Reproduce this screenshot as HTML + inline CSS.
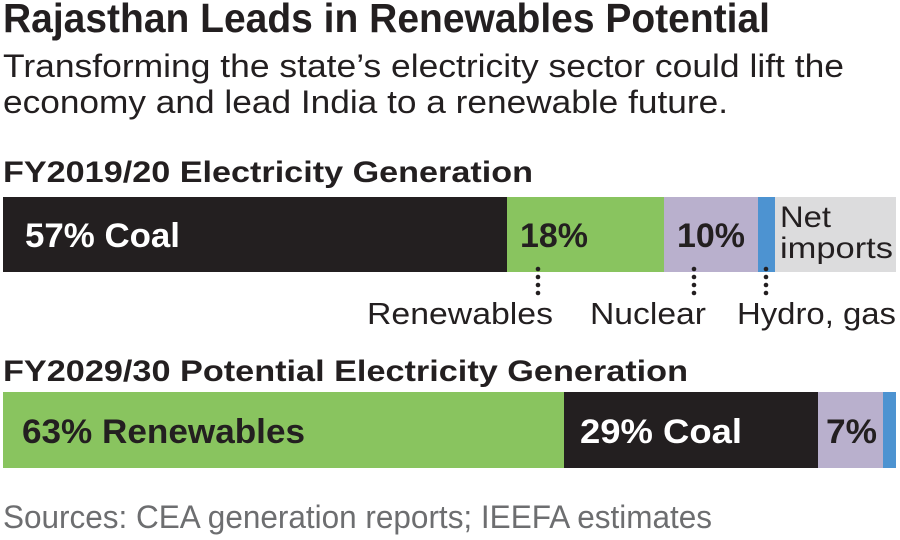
<!DOCTYPE html>
<html>
<head>
<meta charset="utf-8">
<style>
  html,body{margin:0;padding:0;background:#ffffff;}
  body{width:900px;height:540px;overflow:hidden;}
  svg{display:block;}
  text{font-family:"Liberation Sans", Arial, sans-serif;}
</style>
</head>
<body>
<svg width="900" height="540" viewBox="0 0 900 540" xmlns="http://www.w3.org/2000/svg">
  <rect x="0" y="0" width="900" height="540" fill="#ffffff"/>

  <!-- Title -->
  <text x="3" y="32" font-size="41" font-weight="bold" fill="#231f20" textLength="767" lengthAdjust="spacingAndGlyphs">Rajasthan Leads in Renewables Potential</text>

  <!-- Subtitle -->
  <text x="3" y="77" font-size="32" fill="#231f20" textLength="841" lengthAdjust="spacingAndGlyphs">Transforming the state’s electricity sector could lift the</text>
  <text x="3" y="113" font-size="32" fill="#231f20" textLength="725" lengthAdjust="spacingAndGlyphs">economy and lead India to a renewable future.</text>

  <!-- Header 1 -->
  <text x="3" y="182" font-size="30" font-weight="bold" fill="#231f20" textLength="530" lengthAdjust="spacingAndGlyphs">FY2019/20 Electricity Generation</text>

  <!-- Bar 1 -->
  <rect x="3" y="197" width="504" height="75" fill="#231f20"/>
  <rect x="507" y="197" width="157" height="75" fill="#89c45f"/>
  <rect x="664" y="197" width="94" height="75" fill="#b9b0cd"/>
  <rect x="758" y="197" width="17" height="75" fill="#4d93d1"/>
  <rect x="775" y="197" width="121" height="75" fill="#dcdcdd"/>

  <text x="25" y="247" font-size="34" font-weight="bold" fill="#ffffff" textLength="155" lengthAdjust="spacingAndGlyphs">57%  Coal</text>
  <text x="520" y="247" font-size="34" font-weight="bold" fill="#231f20" textLength="68" lengthAdjust="spacingAndGlyphs">18%</text>
  <text x="677" y="247" font-size="34" font-weight="bold" fill="#231f20" textLength="68" lengthAdjust="spacingAndGlyphs">10%</text>
  <text x="780" y="227" font-size="30" fill="#231f20" textLength="51" lengthAdjust="spacingAndGlyphs">Net</text>
  <text x="780" y="258" font-size="30" fill="#231f20" textLength="113" lengthAdjust="spacingAndGlyphs">imports</text>

  <!-- Dotted leaders -->
  <g fill="#231f20">
    <circle cx="538" cy="269" r="2.3"/><circle cx="538" cy="277" r="2.3"/><circle cx="538" cy="285" r="2.3"/><circle cx="538" cy="293" r="2.3"/>
    <circle cx="694" cy="269" r="2.3"/><circle cx="694" cy="277" r="2.3"/><circle cx="694" cy="285" r="2.3"/><circle cx="694" cy="293" r="2.3"/>
    <circle cx="766" cy="269" r="2.3"/><circle cx="766" cy="277" r="2.3"/><circle cx="766" cy="285" r="2.3"/><circle cx="766" cy="293" r="2.3"/>
  </g>

  <text x="367" y="324" font-size="31" fill="#231f20" textLength="186" lengthAdjust="spacingAndGlyphs">Renewables</text>
  <text x="590" y="324" font-size="31" fill="#231f20" textLength="116" lengthAdjust="spacingAndGlyphs">Nuclear</text>
  <text x="737" y="324" font-size="31" fill="#231f20" textLength="159" lengthAdjust="spacingAndGlyphs">Hydro, gas</text>

  <!-- Header 2 -->
  <text x="3" y="381" font-size="30" font-weight="bold" fill="#231f20" textLength="685" lengthAdjust="spacingAndGlyphs">FY2029/30 Potential Electricity Generation</text>

  <!-- Bar 2 -->
  <rect x="3" y="392" width="561" height="76" fill="#89c45f"/>
  <rect x="564" y="392" width="254" height="76" fill="#231f20"/>
  <rect x="818" y="392" width="65" height="76" fill="#b9b0cd"/>
  <rect x="883" y="392" width="13" height="76" fill="#4d93d1"/>

  <text x="22" y="443" font-size="34" font-weight="bold" fill="#231f20" textLength="283" lengthAdjust="spacingAndGlyphs">63%  Renewables</text>
  <text x="580" y="443" font-size="34" font-weight="bold" fill="#ffffff" textLength="162" lengthAdjust="spacingAndGlyphs">29%  Coal</text>
  <text x="826" y="443" font-size="34" font-weight="bold" fill="#231f20" textLength="51" lengthAdjust="spacingAndGlyphs">7%</text>

  <!-- Sources -->
  <text x="3" y="528" font-size="32" fill="#6d6e70" textLength="709" lengthAdjust="spacingAndGlyphs">Sources: CEA generation reports; IEEFA estimates</text>
</svg>
</body>
</html>
